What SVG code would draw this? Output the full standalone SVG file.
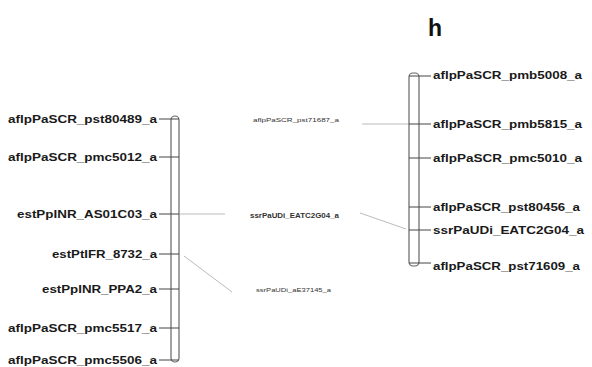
<svg xmlns="http://www.w3.org/2000/svg" width="592" height="367" viewBox="0 0 592 367">
<style>
.lbl{font-family:"Liberation Sans",Arial,sans-serif;font-size:11.5px;fill:#1a1a1a;font-weight:bold;dominant-baseline:central}
.sm{font-family:"Liberation Sans",Arial,sans-serif;font-size:6px;fill:#333;dominant-baseline:central}
.bar{fill:none;stroke:#666;stroke-width:1.2}
.tick{stroke:#444;stroke-width:1}
.con{stroke:#bbb;stroke-width:1;fill:none}
</style>
<rect width="592" height="367" fill="#fff"/>
<text x="435" y="36" font-family="Liberation Sans,Arial,sans-serif" font-size="23" font-weight="bold" text-anchor="middle" fill="#111">h</text>
<g id="connectors">
<line class="con" x1="180" y1="214" x2="225" y2="214"/>
<line class="con" x1="184" y1="256" x2="232" y2="292"/>
<line class="con" x1="362" y1="124" x2="409" y2="124"/>
<line class="con" x1="360" y1="213" x2="406" y2="229"/>
</g>
<g id="chromosome-left">
<rect class="bar" x="171" y="116" width="8" height="246" rx="4"/>
<line class="tick" x1="159" y1="119" x2="179" y2="119"/>
<line class="tick" x1="159" y1="157" x2="179" y2="157"/>
<line class="tick" x1="159" y1="214" x2="179" y2="214"/>
<line class="tick" x1="159" y1="254" x2="179" y2="254"/>
<line class="tick" x1="159" y1="289" x2="179" y2="289"/>
<line class="tick" x1="159" y1="328" x2="179" y2="328"/>
<line class="tick" x1="159" y1="360" x2="179" y2="360"/>
<text class="lbl" x="8" y="119" textLength="149" lengthAdjust="spacingAndGlyphs">aflpPaSCR_pst80489_a</text>
<text class="lbl" x="8" y="157" textLength="149" lengthAdjust="spacingAndGlyphs">aflpPaSCR_pmc5012_a</text>
<text class="lbl" x="17" y="214" textLength="140" lengthAdjust="spacingAndGlyphs">estPpINR_AS01C03_a</text>
<text class="lbl" x="52" y="254" textLength="105" lengthAdjust="spacingAndGlyphs">estPtIFR_8732_a</text>
<text class="lbl" x="42" y="289" textLength="115" lengthAdjust="spacingAndGlyphs">estPpINR_PPA2_a</text>
<text class="lbl" x="8" y="328" textLength="149" lengthAdjust="spacingAndGlyphs">aflpPaSCR_pmc5517_a</text>
<text class="lbl" x="8" y="360" textLength="149" lengthAdjust="spacingAndGlyphs">aflpPaSCR_pmc5506_a</text>
</g>
<g id="chromosome-right">
<rect class="bar" x="409" y="73" width="10" height="193" rx="4"/>
<line class="tick" x1="409" y1="76" x2="431" y2="76"/>
<line class="tick" x1="409" y1="124" x2="431" y2="124"/>
<line class="tick" x1="409" y1="158" x2="431" y2="158"/>
<line class="tick" x1="409" y1="207" x2="431" y2="207"/>
<line class="tick" x1="409" y1="230" x2="431" y2="230"/>
<line class="tick" x1="409" y1="263" x2="431" y2="263"/>
<text class="lbl" x="433" y="75" textLength="149" lengthAdjust="spacingAndGlyphs">aflpPaSCR_pmb5008_a</text>
<text class="lbl" x="433" y="124" textLength="149" lengthAdjust="spacingAndGlyphs">aflpPaSCR_pmb5815_a</text>
<text class="lbl" x="433" y="158" textLength="149" lengthAdjust="spacingAndGlyphs">aflpPaSCR_pmc5010_a</text>
<text class="lbl" x="433" y="207" textLength="147" lengthAdjust="spacingAndGlyphs">aflpPaSCR_pst80456_a</text>
<text class="lbl" x="433" y="230" textLength="151" lengthAdjust="spacingAndGlyphs">ssrPaUDi_EATC2G04_a</text>
<text class="lbl" x="433" y="266" textLength="147" lengthAdjust="spacingAndGlyphs">aflpPaSCR_pst71609_a</text>
</g>
<g id="middle-labels">
<text class="sm" x="253" y="120" textLength="86" lengthAdjust="spacingAndGlyphs">aflpPaSCR_pst71687_a</text>
<text class="sm" x="250" y="215" textLength="89" lengthAdjust="spacingAndGlyphs" font-weight="bold" fill="#000" style="font-size:6.5px">ssrPaUDi_EATC2G04_a</text>
<text class="sm" x="256" y="290" textLength="75" lengthAdjust="spacingAndGlyphs">ssrPaUDi_aE37145_a</text>
</g>
</svg>
